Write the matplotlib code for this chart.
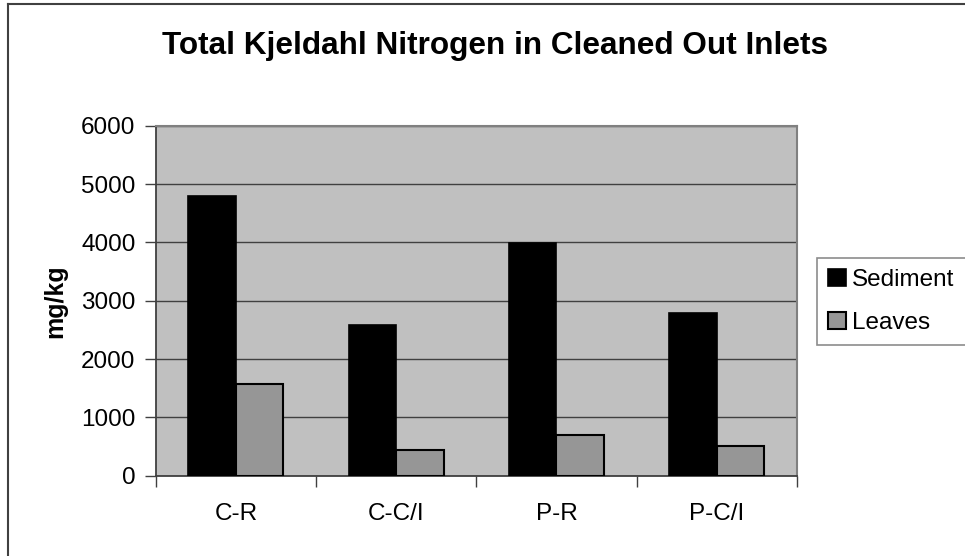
import numpy as np
import matplotlib
matplotlib.use("Agg")
import matplotlib.pyplot as plt
from matplotlib.lines import Line2D

plt.rcParams["font.family"] = ["Liberation Sans", "DejaVu Sans"]

categories = ["C-R", "C-C/I", "P-R", "P-C/I"]
sediment = [4800, 2580, 3990, 2790]
leaves = [1570, 440, 690, 515]
series_names = ["Sediment", "Leaves"]
yticks = [0, 1000, 2000, 3000, 4000, 5000, 6000]

fig = plt.figure(figsize=(9.65, 5.56), dpi=100)
ax = fig.add_axes([0.1613, 0.1444, 0.6646, 0.6295])
ax.set_facecolor("#c0c0c0")

x = np.arange(len(categories))
w = 0.296
ax.bar(x - w / 2, sediment, w, color="black", edgecolor="black", linewidth=1.2,
       label=series_names[0], zorder=3)
ax.bar(x + w / 2, leaves, w, color="#969696", edgecolor="black", linewidth=1.5,
       label=series_names[1], zorder=3)

ax.set_xlim(-0.5, len(categories) - 0.5)
ax.set_ylim(0, 6000)
ax.set_yticks(yticks)
ax.set_yticklabels([str(v) for v in yticks])
ax.yaxis.grid(True, color="#404040", linewidth=1)
ax.set_axisbelow(True)

# category ticks sit on the boundaries, labels in the middle
ax.set_xticks(np.arange(len(categories) + 1) - 0.5)
ax.set_xticklabels([])
ax.set_xticks(x, minor=True)
ax.set_xticklabels(categories, minor=True)
ax.tick_params(axis="x", which="minor", length=0, labelsize=17.5, pad=20)
ax.tick_params(axis="x", which="major", length=8, width=1, color="#404040", direction="out")
ax.tick_params(axis="y", length=8, width=1, color="#404040", labelsize=17.5, pad=6.5)

for s in ["left", "bottom"]:
    ax.spines[s].set_color("#404040")
    ax.spines[s].set_linewidth(1.3)
for s in ["top", "right"]:
    ax.spines[s].set_color("#808080")
    ax.spines[s].set_linewidth(1.5)

ax.set_ylabel("mg/kg", fontsize=18, fontweight="bold", labelpad=10)
fig.text(0.513, 0.917, "Total Kjeldahl Nitrogen in Cleaned Out Inlets",
         ha="center", va="center", fontsize=22.7, fontweight="bold")

leg = fig.legend(loc="upper left", bbox_to_anchor=(0.847, 0.5365), fontsize=17.5,
                 frameon=True, fancybox=False, handlelength=0.74, handleheight=0.74,
                 handletextpad=0.25, labelspacing=0.85, borderpad=0.45, borderaxespad=0)
leg.get_frame().set_edgecolor("#707070")
leg.get_frame().set_linewidth(1.2)

# outer chart border (left and top visible)
fig.add_artist(Line2D([7.5 / 965, 7.5 / 965], [0, 1 - 4 / 556], transform=fig.transFigure,
                      color="#404040", linewidth=1.5))
fig.add_artist(Line2D([7.5 / 965, 1], [1 - 4 / 556, 1 - 4 / 556], transform=fig.transFigure,
                      color="#404040", linewidth=1.5))

fig.savefig("out.png", dpi=100, facecolor="white")
